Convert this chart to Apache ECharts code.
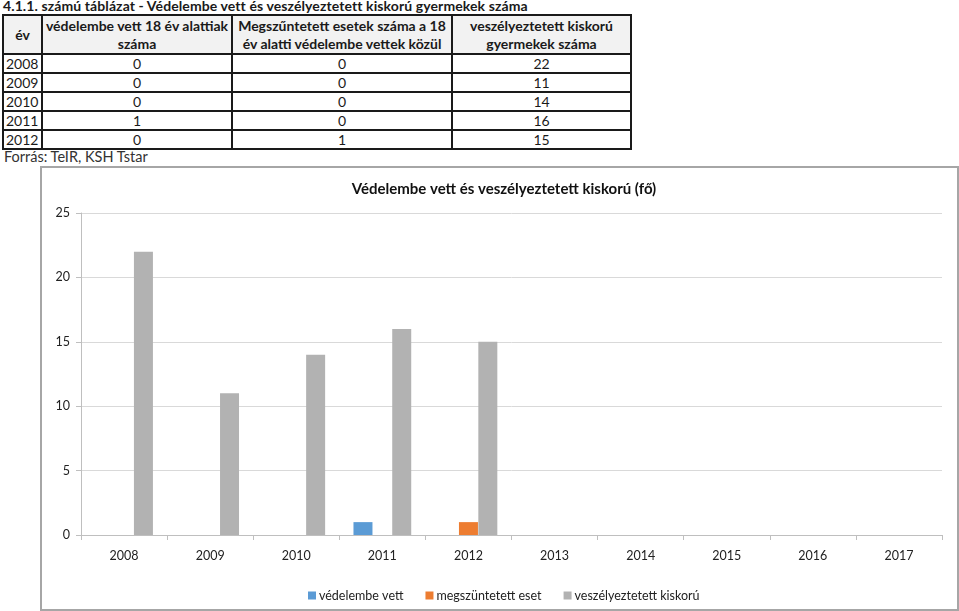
<!DOCTYPE html>
<html>
<head>
<meta charset="utf-8">
<script src="https://cdn.jsdelivr.net/npm/echarts@6/dist/echarts.min.js"></script>
<style>
    html, body { margin: 0; padding: 0; background: #fff; }
    body { width: 959px; height: 611px; position: relative; overflow: hidden; font-family: Lato, "Open Sans", sans-serif; color: #1a1a1a; }
    .caption { position: absolute; left: 3px; top: -3px; font-size: 14px; font-weight: bold; white-space: nowrap; letter-spacing: 0.1px; }
    table.data { position: absolute; left: 2px; top: 14px; width: 628px; border-collapse: collapse; font-size: 14px; table-layout: fixed; }
    table.data td, table.data th { border: 2px solid #1a1a1a; padding: 0; text-align: center; line-height: 17px; }
    table.data th { background: #f2f2f2; font-weight: bold; height: 37px; line-height: 18px; font-size: 14px; }
    table.data td:first-child { text-align: left; padding-left: 2px; }
    .source { position: absolute; left: 4px; top: 148px; font-size: 14.5px; color: #333; }
    .frame { position: absolute; left: 40px; top: 166px; width: 915px; height: 441px; border: 2px solid #a6a6a6; }
    #chart { position: absolute; left: 0; top: 0; width: 959px; height: 611px; }
</style>
</head>
<body>
<div class="caption">4.1.1. számú táblázat - Védelembe vett és veszélyeztetett kiskorú gyermekek száma</div>
<table class="data" id="tbl"></table>
<div class="source">Forrás: TeIR, KSH Tstar</div>
<div class="frame"></div>
<div id="chart"></div>
<script>
    // tabla fejlec
    var tableHead = ['év', 'védelembe vett 18 év alattiak száma', 'Megszűntetett esetek száma a 18<br>év alatti védelembe vettek közül', 'veszélyeztetett kiskorú<br>gyermekek száma'];
    var colWidths = [37, 188, 218, 177];

    // adatok
    var years = ['2008', '2009', '2010', '2011', '2012'];
    var protectedCounts = [0, 0, 0, 1, 0];
    var closedCounts = [0, 0, 0, 0, 1];
    var endangeredCounts = [22, 11, 14, 16, 15];

    // diagram tengely
    var axisYears = ['2008', '2009', '2010', '2011', '2012', '2013', '2014', '2015', '2016', '2017'];
    var seriesNames = ['védelembe vett', 'megszüntetett eset', 'veszélyeztetett kiskorú'];
    var seriesColors = ['#5b9bd5', '#ed7d31', '#b2b2b2'];
    var chartTitle = 'Védelembe vett és veszélyeztetett kiskorú (fő)';

    function buildTable() {
        var html = '<tr>';
        tableHead.forEach(function (h, i) {
            html += '<th style="width:' + colWidths[i] + 'px">' + h + '</th>';
        });
        html += '</tr>';
        years.forEach(function (y, i) {
            html += '<tr><td>' + y + '</td><td>' + protectedCounts[i] + '</td><td>' + closedCounts[i] + '</td><td>' + endangeredCounts[i] + '</td></tr>';
        });
        document.getElementById('tbl').innerHTML = html;
    }
    buildTable();

    function pad(arr) {
        var out = arr.slice();
        while (out.length < axisYears.length) out.push(null);
        return out;
    }

    var myChart = echarts.init(document.getElementById('chart'));
    var seriesData = [protectedCounts, closedCounts, endangeredCounts];
    var option = {
        backgroundColor: 'transparent',
        textStyle: { fontFamily: 'Lato, "Open Sans", sans-serif' },
        title: {
            text: chartTitle,
            left: 499,
            top: 177,
            textAlign: 'center',
            textStyle: { fontSize: 15, fontWeight: 'bold', color: '#111' }
        },
        legend: {
            left: 303,
            top: 584,
            icon: 'rect',
            itemWidth: 8,
            itemHeight: 8,
            itemGap: 22,
            textStyle: { fontSize: 12.5, color: '#222', padding: [0, 0, 0, -2] },
            data: seriesNames
        },
        grid: { left: 81, right: 17, top: 213, bottom: 76, containLabel: false },
        xAxis: {
            type: 'category',
            data: axisYears,
            axisLine: { lineStyle: { color: '#bfbfbf', width: 1 } },
            axisTick: { show: true, length: 5, lineStyle: { color: '#bfbfbf' } },
            axisLabel: { fontSize: 12.5, color: '#222', margin: 14 }
        },
        yAxis: {
            type: 'value',
            min: 0,
            max: 25,
            interval: 5,
            axisLine: { show: true, lineStyle: { color: '#bfbfbf', width: 1 } },
            axisTick: { show: true, length: 5, lineStyle: { color: '#bfbfbf' } },
            axisLabel: { fontSize: 12.5, color: '#222', margin: 11 },
            splitLine: { lineStyle: { color: '#d9d9d9', width: 1 } }
        },
        series: seriesNames.map(function (name, i) {
            return {
                name: name,
                type: 'bar',
                barWidth: 19,
                barGap: '2%',
                itemStyle: { color: seriesColors[i] },
                data: pad(seriesData[i])
            };
        })
    };
    myChart.setOption(option);
</script>
</body>
</html>
